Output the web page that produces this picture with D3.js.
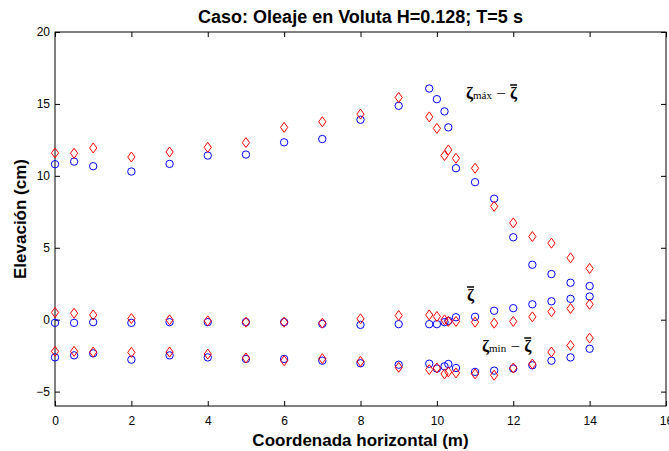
<!DOCTYPE html>
<html>
<head>
<meta charset="utf-8">
<script src="https://cdn.jsdelivr.net/npm/d3@7"></script>
<style>
  body { margin: 0; background: #fff; }
  svg { display: block; }
  .tick text { font-family: "Liberation Sans", Arial, sans-serif; font-size: 12px; }
</style>
</head>
<body>
<div id="chart"></div>
<script>
// posiciones de medicion (m)
const xPos = [0, 0.5, 1, 2, 3, 4, 5, 6, 7, 8, 9, 9.8, 10, 10.2, 10.3, 10.5, 11, 11.5, 12, 12.5, 13, 13.5, 14];

// serie azul (circulos)
const maxBlue  = [10.81, 10.99, 10.67, 10.30, 10.83, 11.41, 11.48, 12.33, 12.56, 13.90, 14.87, 16.07, 15.33, 14.48, 13.37, 10.53, 9.56, 8.41, 5.73, 3.82, 3.17, 2.57, 2.34];
const meanBlue = [-0.22, -0.22, -0.17, -0.22, -0.17, -0.17, -0.17, -0.17, -0.29, -0.36, -0.31, -0.31, -0.31, -0.17, -0.08, 0.17, 0.20, 0.62, 0.80, 1.07, 1.28, 1.45, 1.61];
const minBlue  = [-2.62, -2.48, -2.34, -2.78, -2.48, -2.62, -2.73, -2.73, -2.85, -3.03, -3.13, -3.06, -3.40, -3.24, -3.08, -3.36, -3.63, -3.54, -3.40, -3.17, -2.85, -2.62, -2.02];

// serie roja (rombos)
const maxRed  = [11.59, 11.57, 11.94, 11.31, 11.66, 11.98, 12.31, 13.37, 13.76, 14.29, 15.45, 14.10, 13.30, 11.41, 11.80, 11.22, 10.53, 7.88, 6.73, 5.78, 5.32, 4.30, 3.56];
const meanRed = [0.50, 0.45, 0.33, 0.08, -0.01, -0.08, -0.17, -0.17, -0.24, 0.06, 0.29, 0.33, 0.22, -0.01, -0.12, -0.12, -0.17, -0.24, -0.12, 0.20, 0.55, 0.78, 1.07];
const minRed  = [-2.20, -2.20, -2.25, -2.27, -2.25, -2.39, -2.66, -2.85, -2.71, -2.90, -3.31, -3.47, -3.36, -3.77, -3.63, -3.70, -3.77, -3.86, -3.36, -3.08, -2.25, -1.79, -1.28];

const xTicks = [0, 2, 4, 6, 8, 10, 12, 14, 16];
const yTicks = [-5, 0, 5, 10, 15, 20];

var margin = {top: 32, right: 3, bottom: 45, left: 55},
    width = 669 - margin.left - margin.right,
    height = 451 - margin.top - margin.bottom;

const root = d3.select("#chart").append("svg")
    .attr("width", 669)
    .attr("height", 451);

const svg = root.append("g")
    .attr("transform", "translate(" + margin.left + "," + margin.top + ")");

var x = d3.scaleLinear().domain([0, 16]).range([0, width]);
var y = d3.scaleLinear().domain([-6, 20]).range([height, 0]);

// ejes con marcas hacia dentro, en los cuatro lados
function styleAxis(g) {
    g.select(".domain").remove();
    g.selectAll(".tick line").attr("stroke", "#000");
    g.selectAll(".tick text").attr("fill", "#000");
}

svg.append("g")
    .attr("transform", "translate(0," + height + ")")
    .call(d3.axisBottom(x).tickValues(xTicks).tickSize(-5).tickPadding(10).tickFormat(d3.format("d")))
    .call(styleAxis);

svg.append("g")
    .call(d3.axisTop(x).tickValues(xTicks).tickSize(-5).tickFormat(""))
    .call(styleAxis);

svg.append("g")
    .call(d3.axisLeft(y).tickValues(yTicks).tickSize(-5).tickPadding(5).tickFormat(d3.format("d")))
    .call(styleAxis);

svg.append("g")
    .attr("transform", "translate(" + width + ",0)")
    .call(d3.axisRight(y).tickValues(yTicks).tickSize(-5).tickFormat(""))
    .call(styleAxis);

svg.append("rect")
    .attr("x", 0).attr("y", 0)
    .attr("width", width).attr("height", height)
    .attr("fill", "none")
    .attr("stroke", "#000")
    .attr("stroke-width", 1);

// puntos
function circles(vals) {
    svg.append("g").selectAll("circle")
        .data(vals)
        .enter()
        .append("circle")
        .attr("cx", function(d, i) { return x(xPos[i]); })
        .attr("cy", function(d) { return y(d); })
        .attr("r", 3.7)
        .attr("fill", "none")
        .attr("stroke", "#0000ff")
        .attr("stroke-width", 1);
}

const diamond = "M0,-5L3.6,0L0,5L-3.6,0Z";
function diamonds(vals) {
    svg.append("g").selectAll("path")
        .data(vals)
        .enter()
        .append("path")
        .attr("d", diamond)
        .attr("transform", function(d, i) { return "translate(" + x(xPos[i]) + "," + y(d) + ")"; })
        .attr("fill", "none")
        .attr("stroke", "#ff0000")
        .attr("stroke-width", 1);
}

[maxBlue, meanBlue, minBlue].forEach(circles);
[maxRed, meanRed, minRed].forEach(diamonds);

// textos
root.append("text")
    .attr("x", margin.left + width / 2)
    .attr("y", 23)
    .attr("text-anchor", "middle")
    .style("font-family", "Liberation Sans, Arial, sans-serif")
    .style("font-size", "18px")
    .style("font-weight", "bold")
    .text("Caso: Oleaje en Voluta H=0.128; T=5 s");

root.append("text")
    .attr("x", margin.left + width / 2)
    .attr("y", 446)
    .attr("text-anchor", "middle")
    .style("font-family", "Liberation Sans, Arial, sans-serif")
    .style("font-size", "17px")
    .style("font-weight", "bold")
    .text("Coordenada horizontal (m)");

root.append("text")
    .attr("transform", "translate(26," + (margin.top + height / 2) + ") rotate(-90)")
    .attr("text-anchor", "middle")
    .style("font-family", "Liberation Sans, Arial, sans-serif")
    .style("font-size", "17px")
    .style("font-weight", "bold")
    .text("Elevación (cm)");

// etiquetas zeta con barra encima de la ultima letra
function zetaLabel(px, py, sub) {
    var t = root.append("text")
        .attr("x", px).attr("y", py)
        .style("font-family", "Liberation Serif, Times New Roman, serif")
        .style("font-weight", "bold")
        .style("font-size", "17px");
    if (sub) {
        t.append("tspan").text("ζ");
        t.append("tspan").style("font-size", "11px").style("font-weight", "normal").text(sub);
        t.append("tspan").style("font-weight", "normal").text(" − ");
    }
    t.append("tspan").text("ζ");
    var end = px + t.node().getComputedTextLength();
    root.append("line")
        .attr("x1", end - 7).attr("x2", end)
        .attr("y1", py - 14).attr("y2", py - 14)
        .attr("stroke", "#000")
        .attr("stroke-width", 1.5);
}

zetaLabel(466, 99, "máx");
zetaLabel(467, 301, null);
zetaLabel(482, 352, "min");
</script>
</body>
</html>
